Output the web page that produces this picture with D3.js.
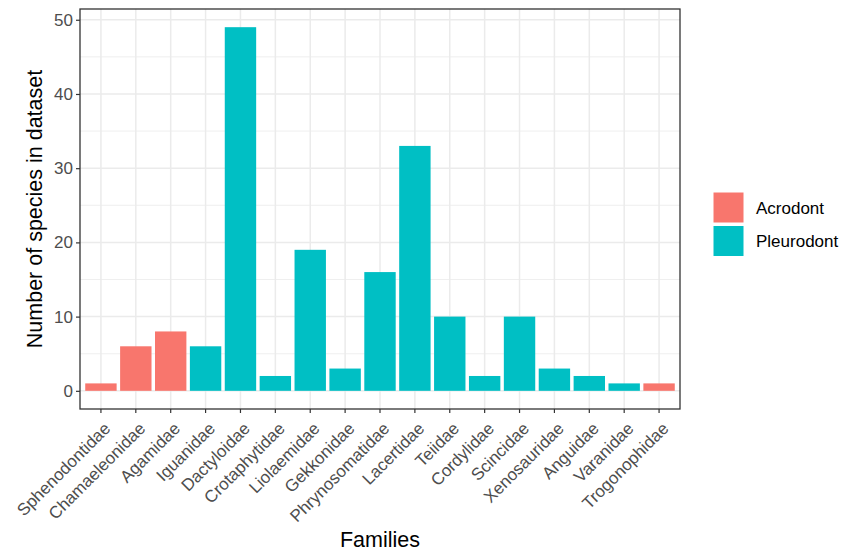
<!DOCTYPE html>
<html>
<head>
<meta charset="utf-8">
<script src="https://cdn.jsdelivr.net/npm/d3@7"></script>
<style>
  body { margin: 0; background: #fff; }
  text { font-family: "Liberation Sans", Arial, sans-serif; }
</style>
</head>
<body>
<svg id="chart" width="843" height="552"></svg>
<script>
// data
const families = ["Sphenodontidae","Chamaeleonidae","Agamidae","Iguanidae","Dactyloidae","Crotaphytidae","Liolaemidae","Gekkonidae","Phrynosomatidae","Lacertidae","Teiidae","Cordylidae","Scincidae","Xenosauridae","Anguidae","Varanidae","Trogonophidae"];
const counts = [1, 6, 8, 6, 49, 2, 19, 3, 16, 33, 10, 2, 10, 3, 2, 1, 1];
const dentition = ["Acrodont","Acrodont","Acrodont","Pleurodont","Pleurodont","Pleurodont","Pleurodont","Pleurodont","Pleurodont","Pleurodont","Pleurodont","Pleurodont","Pleurodont","Pleurodont","Pleurodont","Pleurodont","Acrodont"];
const groups = ["Acrodont", "Pleurodont"];
const yTicks = [0, 10, 20, 30, 40, 50];

const data = families.map((f, i) => ({ family: f, n: counts[i], type: dentition[i] }));

const svg = d3.select("#chart");
const panel = { left: 80, top: 9, right: 680, bottom: 409 };

const color = d3.scaleOrdinal().domain(groups).range(["#F8766D", "#00BFC4"]);

// ggplot style discrete expansion (0.6 each side)
const step = (panel.right - panel.left) / (families.length + 0.2);
const x = d3.scaleBand().domain(families)
  .range([panel.left + 0.1 * step, panel.right - 0.1 * step])
  .paddingInner(0.1).paddingOuter(0.05);

const maxN = d3.max(counts);
const y = d3.scaleLinear().domain([-0.05 * maxN, maxN * 1.05]).range([panel.bottom, panel.top]);

const g = svg.append("g");

// grid
const minor = d3.range(5, 51, 10);
g.selectAll(".minor").data(minor).join("line")
  .attr("x1", panel.left).attr("x2", panel.right)
  .attr("y1", d => y(d)).attr("y2", d => y(d))
  .attr("stroke", "#EBEBEB").attr("stroke-width", 0.8);
g.selectAll(".majorY").data(yTicks).join("line")
  .attr("x1", panel.left).attr("x2", panel.right)
  .attr("y1", d => y(d)).attr("y2", d => y(d))
  .attr("stroke", "#EBEBEB").attr("stroke-width", 1.5);
g.selectAll(".majorX").data(families).join("line")
  .attr("x1", d => x(d) + x.bandwidth() / 2).attr("x2", d => x(d) + x.bandwidth() / 2)
  .attr("y1", panel.top).attr("y2", panel.bottom)
  .attr("stroke", "#EBEBEB").attr("stroke-width", 1.5);

// bars
g.selectAll(".bar").data(data).join("rect")
  .attr("x", d => x(d.family))
  .attr("width", x.bandwidth())
  .attr("y", d => y(d.n))
  .attr("height", d => y(0) - y(d.n))
  .attr("fill", d => color(d.type));

// border
g.append("rect")
  .attr("x", panel.left).attr("y", panel.top)
  .attr("width", panel.right - panel.left).attr("height", panel.bottom - panel.top)
  .attr("fill", "none").attr("stroke", "#333333").attr("stroke-width", 1.3);

// y axis
const yAxis = svg.append("g").attr("transform", `translate(${panel.left},0)`)
  .call(d3.axisLeft(y).tickValues(yTicks).tickSize(4).tickPadding(3));
yAxis.select(".domain").remove();
yAxis.selectAll("line").attr("stroke", "#333333").attr("stroke-width", 1.2);
yAxis.selectAll("text").attr("fill", "#4D4D4D").style("font-size", "17px");

// x axis
const xAxis = svg.append("g").attr("transform", `translate(0,${panel.bottom})`)
  .call(d3.axisBottom(x).tickSize(4).tickPadding(2));
xAxis.select(".domain").remove();
xAxis.selectAll("line").attr("stroke", "#333333").attr("stroke-width", 1.2);
xAxis.selectAll("text")
  .attr("fill", "#4D4D4D").style("font-size", "17px")
  .style("text-anchor", "end")
  .attr("x", 0).attr("y", 0).attr("dy", "0.71em")
  .attr("transform", "translate(2,12) rotate(-45)");

// axis titles
svg.append("text").attr("x", (panel.left + panel.right) / 2).attr("y", 547)
  .attr("text-anchor", "middle").style("font-size", "21.5px").text("Families");
svg.append("text").attr("transform", `translate(42,${(panel.top + panel.bottom) / 2}) rotate(-90)`)
  .attr("text-anchor", "middle").style("font-size", "21.5px").text("Number of species in dataset");

// legend
const legend = svg.selectAll(".legend").data(groups).join("g")
  .attr("transform", (d, i) => `translate(713,${192 + i * 33.5})`);
legend.append("rect").attr("width", 31).attr("height", 31)
  .attr("fill", d => color(d)).attr("stroke", "#fff").attr("stroke-width", 1);
legend.append("text").attr("x", 43).attr("y", 16).attr("dy", "0.35em")
  .style("font-size", "17px").attr("fill", "#000").text(d => d);
</script>
</body>
</html>
